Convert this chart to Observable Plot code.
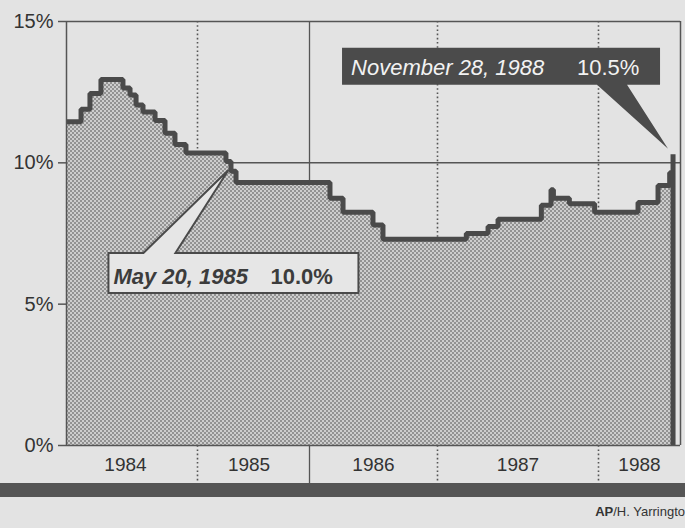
<!DOCTYPE html>
<html>
<head>
<meta charset="utf-8">
<script src="https://cdn.jsdelivr.net/npm/d3@7"></script>
<script src="https://cdn.jsdelivr.net/npm/@observablehq/plot@0.6"></script>
<style>
  html, body { margin: 0; padding: 0; background: #e3e3e3; }
  #wrap { width: 685px; height: 528px; position: relative; overflow: hidden; background: #e3e3e3; font-family: "Liberation Sans", Arial, sans-serif; }
  #band { position: absolute; left: 0; top: 483px; width: 685px; height: 14px; background: #555; }
  #credit { position: absolute; right: 0; top: 504px; font-size: 13px; color: #333; white-space: nowrap; }
  #credit b { font-weight: bold; }
</style>
</head>
<body>
<div id="wrap">
  <div id="chart"></div>
  <div id="band"></div>
  <div id="credit"><b>AP</b>/H. Yarringto</div>
</div>
<script>
// Prime rate steps (decimal year, percent)
const stepYears = [1984.000, 1984.111, 1984.179, 1984.263, 1984.431, 1984.485, 1984.531, 1984.584,
  1984.676, 1984.752, 1984.828, 1984.912, 1985.254, 1985.299, 1985.344, 1986.160, 1986.262,
  1986.496, 1986.574, 1987.179, 1987.314, 1987.376, 1987.645, 1987.705, 1987.720, 1987.819,
  1987.976, 1988.482, 1988.726, 1988.868, 1988.909];
const stepRates = [11.45, 11.9, 12.45, 12.95, 12.65, 12.4, 12.05, 11.8,
  11.5, 11.05, 10.65, 10.35, 10.05, 9.7, 9.3, 8.75, 8.25,
  7.8, 7.3, 7.5, 7.75, 8.0, 8.5, 9.05, 8.75, 8.55,
  8.25, 8.6, 9.2, 9.65, 10.3];
const yearLabels = ["1984", "1985", "1986", "1987", "1988"];
const yearLabelPos = [1984.45, 1985.46, 1986.5, 1987.5, 1988.5];
const yearBreaks = [1984, 1985, 1986, 1987, 1988, 1989];
const solidDividers = [1986];
const dottedDividers = [1985, 1987, 1988];
const yTicks = [0, 5, 10, 15];
const gridRates = [10];
const calloutYears = [1985.254, 1988.909];
const calloutRates = [10.05, 10.3];
const calloutDates = ["May 20, 1985", "November 28, 1988"];
const calloutValues = ["10.0%", "10.5%"];

const data = stepYears.map((year, i) => ({year, rate: stepRates[i]}));
const endYear = stepYears[stepYears.length - 1];
const lineData = data.concat([{year: endYear, rate: 0}]);

const ink = "#4a4a4a";

const plot = Plot.plot({
  width: 685,
  height: 483,
  marginLeft: 66,
  marginRight: 5,
  marginTop: 21,
  marginBottom: 0,
  style: {background: "transparent", fontFamily: "Liberation Sans, Arial, sans-serif", color: "#333"},
  x: {type: "linear", domain: yearBreaks, range: [66, 197, 309, 437, 598, 680], axis: null},
  y: {domain: [0, 15], range: [445, 21], axis: null},
  marks: [
    Plot.ruleY(gridRates, {stroke: "#555", strokeWidth: 1.5}),
    Plot.ruleX(solidDividers, {stroke: "#555", strokeWidth: 1.3}),
    Plot.ruleX(dottedDividers, {stroke: "#555", strokeWidth: 1.6, strokeDasharray: "1.6,2.6"}),
    Plot.areaY(data, {x: "year", y: "rate", curve: "step-after", fill: "url(#stipple)"}),
    Plot.line(lineData, {x: "year", y: "rate", curve: "step-after", stroke: ink, strokeWidth: 5, strokeLinejoin: "miter", strokeLinecap: "butt"}),
    Plot.ruleY([0, 15], {stroke: "#555", strokeWidth: 1.5}),
    Plot.ruleX([yearBreaks[0], yearBreaks[yearBreaks.length - 1]], {y1: 0, y2: 15, stroke: "#555", strokeWidth: 1.5}),
    Plot.axisY({ticks: yTicks, tickFormat: d => d + "%", tickSize: 8, tickPadding: 5, fontSize: 20, stroke: "#555", strokeWidth: 1.5, label: null}),
    Plot.text(yearLabels, {x: (d, i) => yearLabelPos[i], text: d => d, frameAnchor: "bottom", dy: -13, fontSize: 19, fill: "#333"})
  ]
});

document.getElementById("chart").appendChild(plot);

const svg = d3.select(plot);
const defs = svg.insert("defs", ":first-child");
const pat = defs.append("pattern").attr("id", "stipple").attr("patternUnits", "userSpaceOnUse")
  .attr("width", 4).attr("height", 4);
pat.append("rect").attr("width", 4).attr("height", 4).attr("fill", "#cdcdcd");
pat.append("rect").attr("x", 0).attr("y", 0).attr("width", 2).attr("height", 2).attr("fill", "#929292");
pat.append("rect").attr("x", 2).attr("y", 2).attr("width", 2).attr("height", 2).attr("fill", "#929292");

// Callouts anchored to the data through the plot's scales
const sx = plot.scale("x"), sy = plot.scale("y");
const g = svg.append("g").attr("font-family", "Liberation Sans, Arial, sans-serif").attr("text-anchor", "start");

// May 20, 1985 (light box, pointer up to the step)
{
  const px = sx.apply(calloutYears[0]) + 3, py = sy.apply(calloutRates[0]) + 9;
  const L = px - 120, R = px + 130, T = py + 83, B = py + 123;
  const b1 = px - 85, b2 = px - 53;
  g.append("path")
    .attr("d", `M${L},${T}L${b1},${T}L${px},${py}L${b2},${T}L${R},${T}L${R},${B}L${L},${B}Z`)
    .attr("fill", "#e6e6e6").attr("stroke", "#4a4a4a").attr("stroke-width", 2).attr("stroke-linejoin", "miter");
  g.append("text").attr("x", L + 5).attr("y", B - 9).attr("text-anchor", "start")
    .attr("font-size", 22).attr("font-weight", "bold").attr("font-style", "italic").attr("fill", "#3c3c3c")
    .text(calloutDates[0]);
  g.append("text").attr("x", L + 162).attr("y", B - 9).attr("text-anchor", "start")
    .attr("font-size", 22).attr("font-weight", "bold").attr("fill", "#3c3c3c")
    .text(calloutValues[0]);
}

// November 28, 1988 (dark box, pointer down to the last step)
{
  const px = sx.apply(calloutYears[1]) - 4.5, py = sy.apply(calloutRates[1]) - 5;
  const L = px - 326, R = px - 8, T = py - 101, B = py - 64;
  const b1 = px - 71, b2 = px - 41;
  g.append("path")
    .attr("d", `M${L},${T}L${R},${T}L${R},${B}L${b2},${B}L${px},${py}L${b1},${B}L${L},${B}Z`)
    .attr("fill", "#4b4b4b");
  g.append("text").attr("x", L + 9).attr("y", B - 10).attr("text-anchor", "start")
    .attr("font-size", 22).attr("font-style", "italic").attr("fill", "#f2f2f2")
    .text(calloutDates[1]);
  g.append("text").attr("x", L + 235).attr("y", B - 10).attr("text-anchor", "start")
    .attr("font-size", 22).attr("fill", "#f2f2f2")
    .text(calloutValues[1]);
}
</script>
</body>
</html>
